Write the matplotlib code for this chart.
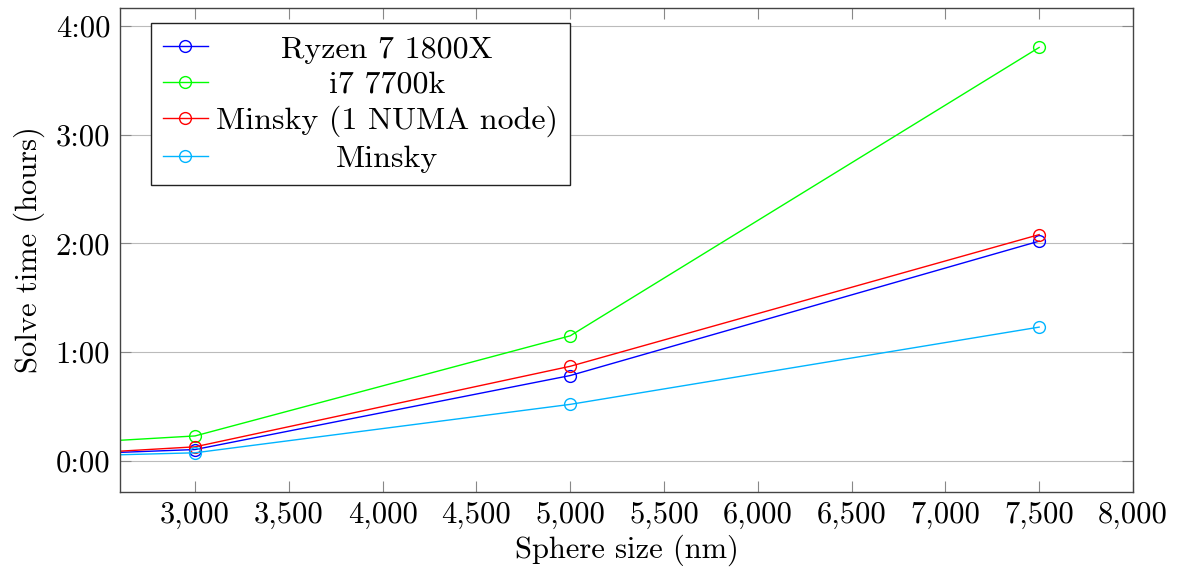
import numpy as np
import matplotlib.pyplot as plt
from matplotlib.ticker import FuncFormatter, MultipleLocator

plt.rcParams['font.family'] = ['cmr10', 'DejaVu Serif']
plt.rcParams['mathtext.fontset'] = 'cm'
plt.rcParams['axes.formatter.use_mathtext'] = True

# 球体尺寸 (nm)，第一个点在坐标轴左边界之外
sizes = [2000, 3000, 5000, 7500]

# 求解时间（小时）
ryzen = [0.04, 0.105, 0.785, 2.02]
i7 = [0.13, 0.23, 1.15, 3.80]
minsky_numa = [0.03, 0.13, 0.87, 2.08]
minsky = [0.03, 0.075, 0.52, 1.23]

labels = ['Ryzen 7 1800X', 'i7 7700k', 'Minsky (1 NUMA node)', 'Minsky']
colors = ['#0000ff', '#00ff00', '#ff0000', '#00b4ff']
series = [ryzen, i7, minsky_numa, minsky]

fs = 22
fs_leg = 23

fig = plt.figure(figsize=(11.81, 5.79), dpi=100)
ax = fig.add_axes([0.1016, 0.1503, 0.9593 - 0.1016, 0.987 - 0.1503])

for vals, lab, col in zip(series, labels, colors):
    ax.plot(sizes, vals, color=col, lw=1.0, marker='o', markersize=8.5,
            markerfacecolor='none', markeredgewidth=1.0, label=lab)

ax.set_xlim(2600, 8000)
ax.set_ylim(-0.285, 4.167)

ax.xaxis.set_major_locator(MultipleLocator(500))
ax.yaxis.set_major_locator(MultipleLocator(1))
ax.xaxis.set_major_formatter(FuncFormatter(lambda v, p: f'{int(v):,}'))
ax.yaxis.set_major_formatter(FuncFormatter(lambda v, p: f'{int(round(v))}:00'))

ax.tick_params(direction='in', length=8, width=0.8, color='#888888',
               top=True, right=True, labelsize=fs, pad=7)
ax.grid(axis='y', color='#bbbbbb', lw=0.8)
for s in ax.spines.values():
    s.set_color('#444444')
    s.set_linewidth(1.0)

ax.set_xlabel('Sphere size (nm)', fontsize=fs, labelpad=4)
ax.set_ylabel('Solve time (hours)', fontsize=fs, labelpad=8)

leg = ax.legend(loc='upper left', bbox_to_anchor=(0.0306, 0.968),
                borderaxespad=0, fontsize=fs_leg, fancybox=False,
                edgecolor='#222222', framealpha=1, handlelength=1.4,
                handletextpad=0.25, labelspacing=0.22, borderpad=0.38)
leg.get_frame().set_linewidth(1.0)

# 图例文字居中（类似 pgfplots）
fig.canvas.draw()
r = fig.canvas.get_renderer()
texts = leg.get_texts()
widths = [t.get_window_extent(r).width for t in texts]
wmax = max(widths)
for t, w in zip(texts, widths):
    t.set_x((wmax - w) / 2)

fig.savefig('out.png', dpi=100)
